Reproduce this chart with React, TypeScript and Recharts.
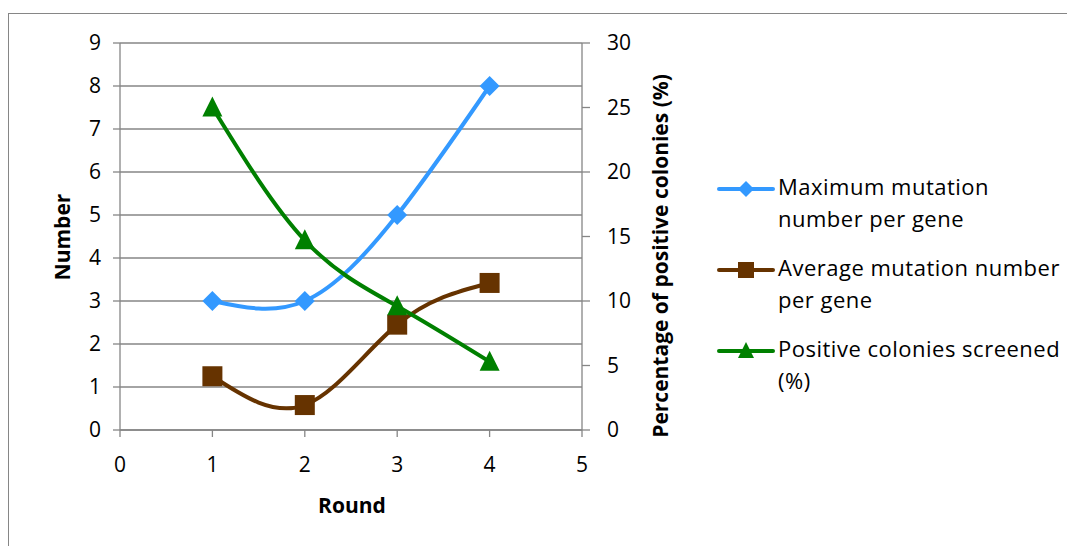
import React from 'react'
import { ComposedChart, Line, XAxis, YAxis, CartesianGrid } from 'recharts'

// ── Data ──────────────────────────────────────────────────────────────────────

const rounds        = [1, 2, 3, 4]
const maxMutation   = [3, 3, 5, 8]
const avgMutation   = [1.25, 0.58, 2.45, 3.42]
const positivePct   = [25, 14.7, 9.6, 5.3]

const xTicks     = [0, 1, 2, 3, 4, 5]
const leftTicks  = [0, 1, 2, 3, 4, 5, 6, 7, 8, 9]
const rightTicks = [0, 5, 10, 15, 20, 25, 30]

const data = rounds.map((r, i) => ({
  round: r,
  maxMut: maxMutation[i],
  avgMut: avgMutation[i],
  pos: positivePct[i],
}))

const FONT  = '"Open Sans", sans-serif'
const GRAY  = '#868686'
const BLUE  = '#3399ff'
const BROWN = '#663300'
const GREEN = '#008000'

// ── Markers ───────────────────────────────────────────────────────────────────

function diamond(cx: number, cy: number, r = 10) {
  return `M${cx},${cy - r} L${cx + r},${cy} L${cx},${cy + r} L${cx - r},${cy} Z`
}
function triangle(cx: number, cy: number, r = 10) {
  return `M${cx},${cy - r} L${cx + r},${cy + r} L${cx - r},${cy + r} Z`
}

const DiamondDot = (p: any) => <path key={p.key ?? p.index} d={diamond(p.cx, p.cy)} fill={BLUE} />
const SquareDot = (p: any) => (
  <rect key={p.key ?? p.index} x={p.cx - 10} y={p.cy - 10} width={20} height={20} fill={BROWN} />
)
const TriangleDot = (p: any) => <path key={p.key ?? p.index} d={triangle(p.cx, p.cy - 1)} fill={GREEN} />

// ── Legend ────────────────────────────────────────────────────────────────────

function LegendItem({ top, color, marker, lines }: { top: number; color: string; marker: string; lines: string[] }) {
  return (
    <div style={{ position: 'absolute', left: 708, top, display: 'flex', alignItems: 'flex-start' }}>
      <svg width={58} height={24} style={{ flex: 'none', marginTop: 7 }}>
        <line x1={2} y1={12} x2={56} y2={12} stroke={color} strokeWidth={4} strokeLinecap="round" />
        {marker === 'diamond' && <path d={diamond(29, 12, 8)} fill={color} />}
        {marker === 'square' && <rect x={21} y={4} width={16} height={16} fill={color} />}
        {marker === 'triangle' && <path d={triangle(29, 11, 8)} fill={color} />}
      </svg>
      <div style={{ fontFamily: FONT, fontSize: 22, lineHeight: '32px', letterSpacing: 0.5, color: '#000', marginLeft: 3 }}>
        {lines.map(l => <div key={l}>{l}</div>)}
      </div>
    </div>
  )
}

// ── Main ──────────────────────────────────────────────────────────────────────

const tickStyle = { fontSize: 21, fill: '#000', fontFamily: FONT }
const titleStyle: React.CSSProperties = { fontWeight: 'bold', fontSize: 21, lineHeight: '28px', textAlign: 'center' }

export default function App() {
  return (
    <div
      style={{
        position: 'relative',
        marginTop: 5,
        width: 1080,
        height: 545,
        borderTop: `1px solid ${GRAY}`,
        borderLeft: `1px solid ${GRAY}`,
        fontFamily: FONT,
      }}
    >
      <div style={{ position: 'absolute', left: 0, top: 0 }}>
        <ComposedChart
          width={1066}
          height={530}
          data={data}
          margin={{ top: 29, right: 413, bottom: 54, left: 51 }}
        >
          <CartesianGrid yAxisId="left" vertical={false} stroke={GRAY} strokeWidth={1.3} />
          <XAxis
            dataKey="round"
            type="number"
            domain={[0, 5]}
            ticks={xTicks}
            height={60}
            stroke={GRAY}
            strokeWidth={1.3}
            tickSize={7}
            tickMargin={20}
            tick={tickStyle}
          />
          <YAxis
            yAxisId="left"
            domain={[0, 9]}
            ticks={leftTicks}
            width={60}
            stroke={GRAY}
            strokeWidth={1.3}
            tickSize={7}
            tickMargin={12}
            tick={tickStyle}
          />
          <YAxis
            yAxisId="right"
            orientation="right"
            domain={[0, 30]}
            ticks={rightTicks}
            width={80}
            stroke={GRAY}
            strokeWidth={1.3}
            tickSize={8}
            tickMargin={17}
            tick={{ ...tickStyle, textAnchor: 'start' }}
          />
          <Line
            yAxisId="left"
            dataKey="maxMut"
            type="natural"
            stroke={BLUE}
            strokeWidth={4}
            dot={DiamondDot}
            activeDot={false}
            isAnimationActive={false}
          />
          <Line
            yAxisId="left"
            dataKey="avgMut"
            type="natural"
            stroke={BROWN}
            strokeWidth={4}
            dot={SquareDot}
            activeDot={false}
            isAnimationActive={false}
          />
          <Line
            yAxisId="right"
            dataKey="pos"
            type="natural"
            stroke={GREEN}
            strokeWidth={4}
            dot={TriangleDot}
            activeDot={false}
            isAnimationActive={false}
          />
        </ComposedChart>
      </div>

      {/* axis titles */}
      <div style={{ ...titleStyle, position: 'absolute', left: 53 - 100, top: 223 - 14, width: 200, transform: 'rotate(-90deg)' }}>
        Number
      </div>
      <div style={{ ...titleStyle, position: 'absolute', left: 651 - 250, top: 242 - 14, width: 500, transform: 'rotate(-90deg)' }}>
        Percentage of positive colonies (%)
      </div>
      <div style={{ ...titleStyle, position: 'absolute', left: 343 - 100, top: 477, width: 200 }}>
        Round
      </div>

      <LegendItem top={156} color={BLUE} marker="diamond" lines={['Maximum mutation', 'number per gene']} />
      <LegendItem top={237} color={BROWN} marker="square" lines={['Average mutation number', 'per gene']} />
      <LegendItem top={318} color={GREEN} marker="triangle" lines={['Positive colonies screened', '(%)']} />
    </div>
  )
}
